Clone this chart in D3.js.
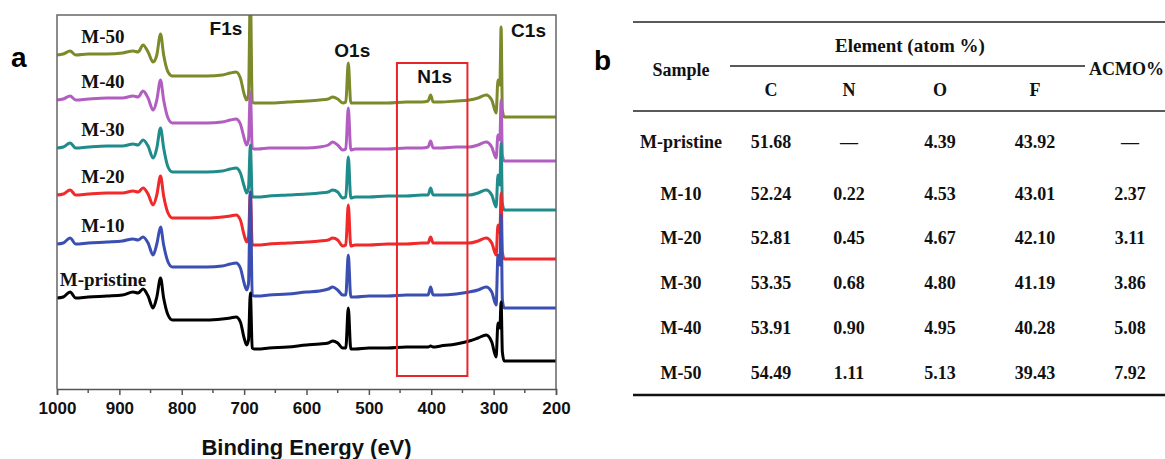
<!DOCTYPE html>
<html>
<head>
<meta charset="utf-8">
<script src="https://cdn.jsdelivr.net/npm/d3@7"></script>
<style>
  html, body { margin: 0; padding: 0; background: #fff; }
  svg { display: block; }
</style>
</head>
<body>
<svg id="fig" width="1165" height="459"></svg>
<script>
// XPS survey spectra (binding energy, eV) shared by every sample
const energy = [1000, 990, 979, 970, 950, 920, 895, 878, 870, 862, 854, 846, 840, 834, 829,
  822, 815, 790, 760, 735, 722, 713, 706, 700, 696, 693, 690, 687, 684, 678,
  660, 630, 600, 579, 565, 558, 550, 542, 537, 533, 529, 522, 500, 470, 440,
  415, 405, 401, 397, 385, 360, 339, 325, 312, 303, 296, 293, 290, 288, 286,
  283, 278, 260, 230, 200];

// Stacked intensities (a.u., offset per sample)
const intensityM50 = [334,335,338,334,335, 335,336,338,337,344, 337,327,334,355,334,
  317,313,313,313,314, 316,317,311,295,289, 294,399,287,286,286,
  286,287,288,289,290, 292,290,286,287,326, 286,286,286,286,287,
  287,288,294,287,287, 288,289,291,294,289, 276,309,304,362,279,
  272,272,272,272,272];
const intensityM40 = [289,290,293,289,290, 291,291,293,292,298, 291,279,289,309,289,
  271,266,266,266,267, 269,270,265,251,244, 249,297,241,240,240,
  241,241,241,242,244, 247,244,239,240,281, 239,240,240,240,241,
  241,242,248,241,241, 242,242,244,247,242, 231,254,249,289,234,
  228,228,228,228,228];
const intensityM30 = [241,242,246,241,242, 243,243,245,244,249, 243,231,241,261,241,
  222,217,217,217,218, 220,221,216,203,196, 201,244,192,192,192,
  193,194,195,196,197, 199,197,191,192,232, 191,192,192,193,193,
  194,194,201,194,194, 194,194,196,199,194, 182,214,204,246,186,
  179,179,179,179,179];
const intensityM20 = [194,195,199,194,195, 196,196,198,197,201, 195,184,194,213,193,
  176,171,171,171,172, 173,174,169,154,147, 152,197,144,144,144,
  145,146,147,148,149, 151,149,143,144,184, 143,144,144,145,145,
  146,146,152,146,146, 146,146,148,151,146, 134,164,156,196,137,
  130,130,130,130,130];
const intensityM10 = [145,146,151,145,146, 147,148,150,149,152, 146,134,145,162,144,
  127,122,122,122,123, 125,126,121,106,99, 105,197,94,93,93,
  94,95,97,98,100, 102,99,94,94,134, 92,92,93,93,94,
  94,94,102,94,94, 95,97,99,102,97, 84,134,124,174,89,
  81,81,81,81,81];
const intensityPristine = [91,92,97,91,92, 93,94,97,96,100, 93,81,92,111,91,
  74,69,69,69,70, 71,72,67,51,44, 49,96,41,40,40,
  41,42,44,45,46, 48,46,41,41,81, 40,40,41,41,42,
  42,42,43,42,43, 45,48,51,54,47, 32,66,61,87,37,
  28,28,28,28,28];

const sampleNames = ["M-50", "M-40", "M-30", "M-20", "M-10", "M-pristine"];
const sampleSeries = [intensityM50, intensityM40, intensityM30, intensityM20, intensityM10, intensityPristine];
const sampleColors = ["#7d8a2c", "#b25ec0", "#1f8b8b", "#f0292b", "#3b4fb2", "#000000"];

const peakNames = ["F1s", "O1s", "N1s", "C1s"];
const peakEnergies = [690, 533, 401, 288];

const xTicks = [1000, 900, 800, 700, 600, 500, 400, 300, 200];
const xMinorTicks = [950, 850, 750, 650, 550, 450, 350, 250];
const nRegion = [455, 342];           // highlighted N1s window (eV)
const nRegionIntensity = [13, 326];   // vertical extent of the window (a.u.)

// Surface composition table
const tableSamples = ["M-pristine", "M-10", "M-20", "M-30", "M-40", "M-50"];
const atomC = ["51.68", "52.24", "52.81", "53.35", "53.91", "54.49"];
const atomN = ["—", "0.22", "0.45", "0.68", "0.90", "1.11"];
const atomO = ["4.39", "4.53", "4.67", "4.80", "4.95", "5.13"];
const atomF = ["43.92", "43.01", "42.10", "41.19", "40.28", "39.43"];
const acmo = ["—", "2.37", "3.11", "3.86", "5.08", "7.92"];
const elementHeaders = ["C", "N", "O", "F"];

const svg = d3.select("#fig");

// ---------- panel a: spectra ----------
const plot = { left: 57, right: 556, top: 15, bottom: 389 };
const x = d3.scaleLinear().domain([1000, 200]).range([plot.left, plot.right]);
const y = d3.scaleLinear().domain([0, 374]).range([plot.bottom, plot.top]);

svg.append("defs").append("clipPath").attr("id", "plotClip")
  .append("rect")
  .attr("x", plot.left).attr("y", plot.top)
  .attr("width", plot.right - plot.left).attr("height", plot.bottom - plot.top);

const line = d3.line()
  .x((d, i) => x(energy[i]))
  .y(d => y(d))
  .curve(d3.curveMonotoneX);

const traces = svg.append("g").attr("clip-path", "url(#plotClip)");
sampleSeries.forEach((s, k) => {
  traces.append("path")
    .datum(s)
    .attr("d", line)
    .attr("fill", "none")
    .attr("stroke", sampleColors[k])
    .attr("stroke-width", 3)
    .attr("stroke-linejoin", "round");
});

// frame
svg.append("path")
  .attr("d", `M${plot.left},${plot.bottom}V${plot.top}H${plot.right}V${plot.bottom}`)
  .attr("fill", "none").attr("stroke", "#666").attr("stroke-width", 1.5);

// bottom axis
const axis = svg.append("g").attr("transform", `translate(0,${plot.bottom})`)
  .call(d3.axisBottom(x).tickValues(xTicks).tickSize(6).tickPadding(7).tickFormat(d3.format("d")));
axis.select(".domain").attr("stroke", "#555").attr("stroke-width", 1.5);
axis.selectAll(".tick line").attr("stroke", "#555").attr("stroke-width", 1.5);
axis.selectAll("text")
  .attr("font-family", "Liberation Sans, Arial, sans-serif")
  .attr("font-weight", "bold").attr("font-size", 17).attr("fill", "#111");

svg.append("g").selectAll("line").data(xMinorTicks).join("line")
  .attr("x1", d => x(d)).attr("x2", d => x(d))
  .attr("y1", plot.bottom).attr("y2", plot.bottom + 4)
  .attr("stroke", "#555").attr("stroke-width", 1.5);

svg.append("text")
  .attr("x", (plot.left + plot.right) / 2).attr("y", 455)
  .attr("text-anchor", "middle")
  .attr("font-family", "Liberation Sans, Arial, sans-serif")
  .attr("font-weight", "bold").attr("font-size", 22).attr("fill", "#111")
  .text("Binding Energy (eV)");

// N1s window
svg.append("rect")
  .attr("x", x(nRegion[0])).attr("y", y(nRegionIntensity[1]))
  .attr("width", x(nRegion[1]) - x(nRegion[0]))
  .attr("height", y(nRegionIntensity[0]) - y(nRegionIntensity[1]))
  .attr("fill", "none").attr("stroke", "#e8262a").attr("stroke-width", 2);

// sample labels above the start of each trace
svg.append("g").selectAll("text").data(sampleNames).join("text")
  .attr("x", 103)
  .attr("y", (d, k) => y(sampleSeries[k][0]) - 12)
  .attr("text-anchor", "middle")
  .attr("font-family", "Liberation Serif, Times New Roman, serif")
  .attr("font-weight", "bold").attr("font-size", 19).attr("fill", "#111")
  .text(d => d);

// peak labels
const peakLabelPos = [
  { dx: -8, y: 35, anchor: "end" },
  { dx: 4, y: 57, anchor: "middle" },
  { dx: 4, y: 83, anchor: "middle" },
  { dx: 10, y: 37, anchor: "start" }
];
svg.append("g").selectAll("text").data(peakNames).join("text")
  .attr("x", (d, i) => x(peakEnergies[i]) + peakLabelPos[i].dx)
  .attr("y", (d, i) => peakLabelPos[i].y)
  .attr("text-anchor", (d, i) => peakLabelPos[i].anchor)
  .attr("font-family", "Liberation Sans, Arial, sans-serif")
  .attr("font-weight", "bold").attr("font-size", 19).attr("fill", "#111")
  .text(d => d);

// panel letters
svg.append("text").attr("x", 11).attr("y", 67)
  .attr("font-family", "Liberation Sans, Arial, sans-serif")
  .attr("font-weight", "bold").attr("font-size", 28).text("a");
svg.append("text").attr("x", 594).attr("y", 70)
  .attr("font-family", "Liberation Sans, Arial, sans-serif")
  .attr("font-weight", "bold").attr("font-size", 28).text("b");

// ---------- panel b: table ----------
const tbl = svg.append("g")
  .attr("font-family", "Liberation Serif, Times New Roman, serif")
  .attr("font-weight", "bold").attr("font-size", 18).attr("fill", "#111");

const colCenters = [681, 771, 849, 940, 1035, 1130];
const rowBaselines = [148, 200, 244, 289, 334, 379];

tbl.append("line").attr("x1", 633).attr("x2", 1165).attr("y1", 22).attr("y2", 22)
  .attr("stroke", "#222").attr("stroke-width", 1.5);
tbl.append("line").attr("x1", 730).attr("x2", 1085).attr("y1", 66).attr("y2", 66)
  .attr("stroke", "#222").attr("stroke-width", 1.3);
tbl.append("line").attr("x1", 633).attr("x2", 1165).attr("y1", 111).attr("y2", 111)
  .attr("stroke", "#222").attr("stroke-width", 1.5);
tbl.append("line").attr("x1", 633).attr("x2", 1165).attr("y1", 395).attr("y2", 395)
  .attr("stroke", "#111").attr("stroke-width", 2.5);

tbl.append("text").attr("x", 910).attr("y", 52).attr("text-anchor", "middle")
  .attr("font-size", 19).text("Element (atom %)");
tbl.append("text").attr("x", colCenters[0]).attr("y", 76).attr("text-anchor", "middle").text("Sample");
tbl.append("text").attr("x", 1089).attr("y", 75).attr("text-anchor", "start").text("ACMO%");
tbl.selectAll(".hdr").data(elementHeaders).join("text").attr("class", "hdr")
  .attr("x", (d, i) => colCenters[i + 1]).attr("y", 96)
  .attr("text-anchor", "middle").text(d => d);

const columns = [tableSamples, atomC, atomN, atomO, atomF, acmo];
columns.forEach((col, c) => {
  tbl.append("g").selectAll("text").data(col).join("text")
    .attr("x", colCenters[c])
    .attr("y", (d, r) => rowBaselines[r])
    .attr("text-anchor", "middle")
    .text(d => d);
});
</script>
</body>
</html>
